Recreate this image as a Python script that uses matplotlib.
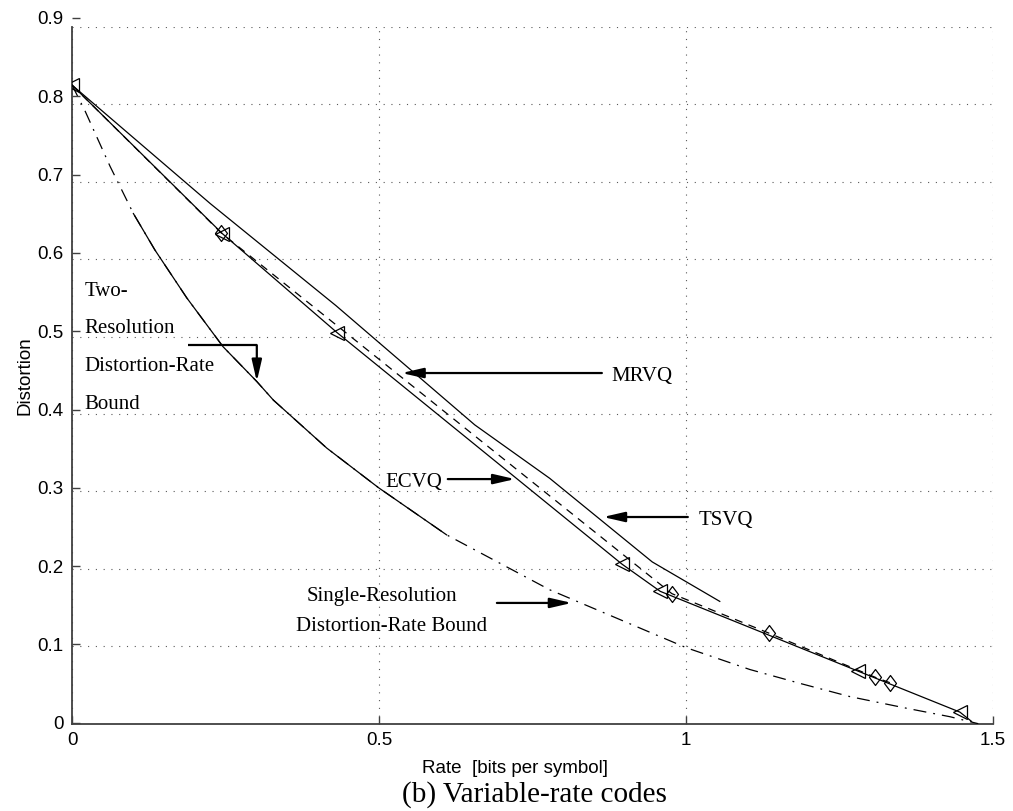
import matplotlib
matplotlib.use("Agg")
import matplotlib.pyplot as plt
from matplotlib.path import Path

# ---- data: rate [bits per symbol] vs distortion ----
ecvq_rate = [0.0, 0.245, 0.432, 0.896, 0.958, 1.280, 1.446, 1.465]
ecvq_dist = [0.825, 0.633, 0.505, 0.206, 0.171, 0.068, 0.015, 0.003]

mrvq_rate = [0.0, 0.243, 0.977, 1.135, 1.308, 1.332]
mrvq_dist = [0.825, 0.634, 0.168, 0.117, 0.060, 0.053]

tsvq_rate = [0.0, 0.225, 0.43, 0.656, 0.778, 0.945, 1.055]
tsvq_dist = [0.825, 0.672, 0.54, 0.386, 0.317, 0.209, 0.158]

single_rate = [0.0, 0.021, 0.062, 0.1, 0.135, 0.187, 0.246, 0.301, 0.328,
               0.415, 0.499, 0.61, 0.778, 1.001, 1.104, 1.186, 1.267,
               1.359, 1.43, 1.476]
single_dist = [0.825, 0.792, 0.72, 0.659, 0.612, 0.55, 0.487, 0.442, 0.418,
               0.356, 0.305, 0.244, 0.173, 0.098, 0.07, 0.052, 0.035,
               0.020, 0.009, 0.0]

two_res_rate = [0.1, 0.135, 0.187, 0.246, 0.301, 0.328, 0.415, 0.499, 0.61]
two_res_dist = [0.659, 0.612, 0.55, 0.487, 0.442, 0.418, 0.356, 0.305, 0.244]

x_ticks = [0, 0.5, 1, 1.5]
x_tick_labels = ["0", "0.5", "1", "1.5"]
y_ticks = [0, 0.1, 0.2, 0.3, 0.4, 0.5, 0.6, 0.7, 0.8, 0.9]
y_tick_labels = ["0", "0.1", "0.2", "0.3", "0.4", "0.5", "0.6", "0.7", "0.8", "0.9"]

SERIF = ["Liberation Serif", "DejaVu Serif"]
SANS = ["Liberation Sans", "DejaVu Sans"]

W, H = 1013, 811
fig = plt.figure(figsize=(W / 100, H / 100), dpi=100)
ax = fig.add_axes([72 / W, 1 - 723.7 / H, 921 / W, 696.7 / H])

# tall open diamond marker
diamond = Path([(0, 1), (0.75, 0), (0, -1), (-0.75, 0), (0, 1)],
               [Path.MOVETO, Path.LINETO, Path.LINETO, Path.LINETO, Path.CLOSEPOLY])

lw = 0.9
ax.plot(single_rate, single_dist, color="k", lw=lw,
        dashes=(10.4, 5.6, 1.5, 5.6), zorder=3)
ax.plot(two_res_rate, two_res_dist, color="k", lw=lw, zorder=3)
ax.plot(tsvq_rate, tsvq_dist, color="k", lw=lw, zorder=3)
ax.plot(mrvq_rate, mrvq_dist, color="k", lw=lw, dashes=(6.4, 5.2),
        marker=diamond, markersize=11.5, markerfacecolor="none",
        markeredgecolor="k", markeredgewidth=0.9,
        markevery=slice(1, None), zorder=4)
ax.plot(ecvq_rate, ecvq_dist, color="k", lw=lw,
        marker="<", markersize=10.5, markerfacecolor="none",
        markeredgecolor="k", markeredgewidth=0.9,
        markevery=slice(0, 7), zorder=4)

ax.set_xlim(0, 1.5)
ax.set_ylim(0, 0.9)
ax.set_xticks(x_ticks)
ax.set_xticklabels(x_tick_labels)
ax.set_yticks(y_ticks)

for side in ("top", "right"):
    ax.spines[side].set_visible(False)
for side in ("left", "bottom"):
    ax.spines[side].set_color("0.25")
    ax.spines[side].set_linewidth(1.3)

ax.tick_params(axis="x", direction="in", length=6, width=1.0, color="0.25",
               labelsize=13.5, pad=6)
ax.tick_params(axis="y", length=0, labelleft=False)
for lab in ax.get_xticklabels():
    lab.set_family(SANS)

ax.grid(True, color="0.35", lw=0.8, linestyle=(0, (1, 6)), zorder=1)

# y ticks and labels sit on a slightly taller, frameless scale
tick_ax = fig.add_axes([72 / W, 1 - 722.7 / H, 921 / W, 704.7 / H], frameon=False)
tick_ax.set_ylim(0, 0.9)
tick_ax.set_yticks(y_ticks)
tick_ax.set_yticklabels(y_tick_labels)
tick_ax.xaxis.set_visible(False)
tick_ax.patch.set_visible(False)
tick_ax.tick_params(axis="y", direction="in", length=6, width=1.0, color="0.25",
                    labelsize=13.5, pad=6)
for lab in tick_ax.get_yticklabels():
    lab.set_family(SANS)

ax.set_xlabel("Rate  [bits per symbol]", fontsize=13.5, family=SANS)
ax.xaxis.set_label_coords(0.481, -0.052)
ax.set_ylabel("Distortion", fontsize=13.5, family=SANS, labelpad=28)

# annotations
arrow_kw = dict(arrowstyle="-|>,head_length=1.3,head_width=0.3",
                color="k", lw=1.6, mutation_scale=10,
                shrinkA=0, shrinkB=0)
tfs = 15

ax.text(0.879, 0.448, "MRVQ", fontsize=tfs, family=SERIF, ha="left", va="center")
ax.annotate("", xy=(0.537, 0.453), xytext=(0.863, 0.453), arrowprops=arrow_kw)

ax.text(0.603, 0.312, "ECVQ", fontsize=tfs, family=SERIF, ha="right", va="center")
ax.annotate("", xy=(0.7215, 0.316), xytext=(0.612, 0.316), arrowprops=arrow_kw)

ax.text(1.021, 0.263, "TSVQ", fontsize=tfs, family=SERIF, ha="left", va="center")
ax.annotate("", xy=(0.865, 0.267), xytext=(1.003, 0.267), arrowprops=arrow_kw)

ax.text(0.504, 0.164, "Single-Resolution", fontsize=tfs, family=SERIF,
        ha="center", va="center")
ax.text(0.521, 0.125, "Distortion-Rate Bound", fontsize=tfs, family=SERIF,
        ha="center", va="center")
ax.annotate("", xy=(0.814, 0.156), xytext=(0.692, 0.156), arrowprops=arrow_kw)

for txt, yy in zip(["Two-", "Resolution", "Distortion-Rate", "Bound"],
                   [0.558, 0.510, 0.461, 0.412]):
    ax.text(0.02, yy, txt, fontsize=tfs, family=SERIF, ha="left", va="center")
ax.plot([0.189, 0.301], [0.489, 0.489], color="k", lw=1.6,
        solid_capstyle="butt", zorder=5)
ax.annotate("", xy=(0.301, 0.442), xytext=(0.301, 0.489), arrowprops=arrow_kw)

fig.text(534 / W, 1 - 795 / H, "(b) Variable-rate codes", fontsize=21,
         family=SERIF, ha="center", va="center")

fig.savefig("out.png", dpi=100)
